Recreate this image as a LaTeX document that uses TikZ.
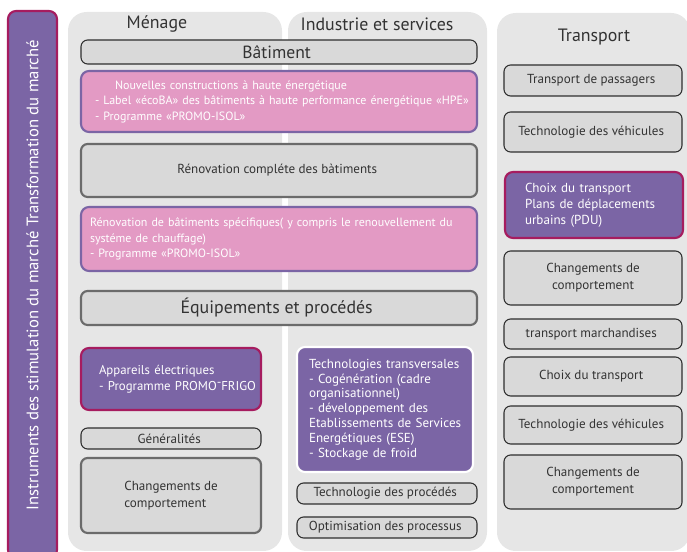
\documentclass[tikz,border=0pt]{standalone}
\usepackage{fontspec}
\setmainfont{PT Sans}
\usepackage{tikz}
\usepackage{xcolor}

\definecolor{panelgray}{HTML}{E6E6E6}
\definecolor{boxgray}{HTML}{D9D9D9}
\definecolor{boxline}{HTML}{2E2E2E}
\definecolor{heavyline}{HTML}{6B6B6B}
\definecolor{pinkfill}{HTML}{E39AC4}
\definecolor{violetfill}{HTML}{7B65A5}
\definecolor{magentaline}{HTML}{A61C5F}
\definecolor{inktext}{HTML}{333333}

\newcommand{\px}{0.75pt}

\begin{document}
\begin{tikzpicture}[x=\px, y=-\px, font=\fontsize{9.8}{12.8}\selectfont, text=inktext,
    wh/.style 2 args={minimum width=#1*\px, minimum height=#2*\px},
    panel/.style={fill=panelgray, rounded corners=14pt, inner sep=0pt},
    head/.style={font=\fontsize{13.4}{15}\selectfont},
    plain/.style={draw=boxline, fill=boxgray, line width=0.8pt, rounded corners=5pt, inner sep=0pt, align=center},
    heavy/.style={plain, draw=heavyline, line width=1.6pt},
    pinkbox/.style={draw=violetfill, fill=pinkfill, line width=1.6pt, rounded corners=6pt, text=white, align=left, inner sep=0pt, font=\fontsize{9}{11.6}\selectfont},
    violetbox/.style={draw=magentaline, fill=violetfill, line width=1.6pt, rounded corners=6pt, text=white, align=left, inner sep=0pt},
    sidebar/.style={draw=magentaline, fill=violetfill, line width=1.6pt, rounded corners=6pt, text=white, inner sep=0pt, font=\fontsize{12.5}{15}\selectfont}]

    \useasboundingbox (0,0) rectangle (687,552);

    % columns
    \node[sidebar, rotate=90, wh={547}{49}] (Instr) at (32.5,284.5)
    { \hspace*{14pt}Instruments des stimulation du marché Transformation du marché };

    \node[panel, wh={214}{539}] (Menage) at (175,281.5) {};
    \node[panel, wh={199}{539}] (Industrie) at (387.5,281.5) {};
    \node[panel, wh={193}{538}] (Transport) at (593.5,282) {};

    \node[head] (MenageT) at (157,24) { Ménage };
    \node[head] (IndustrieT) at (377,24) { Industrie et services };
    \node[head] (TransportT) at (594,37) { Transport };

    % ---------------------------------------------------------

    \node[plain, wh={396}{24}, font=\fontsize{13.2}{15}\selectfont] (Bat) at (279,52)
    { Bâtiment };

    \node[pinkbox, wh={396}{61}, text width=368*\px] (NewBuild) at (279,101.5)
    { \hspace*{15pt}Nouvelles constructions à haute énergétique\\
      \mbox{- Label «écoBA» des bâtiments à haute performance énergétique «HPE»}\\
      - Programme «PROMO-ISOL» };

    \node[heavy, wh={396}{53}] (RenoFull) at (279,170.5)
    { Rénovation compléte des bàtiments };

    \node[pinkbox, wh={396}{64}, text width=378*\px] (RenoSpec) at (279,239)
    { \mbox{Rénovation de bâtiments spécifiques( y compris le renouvellement du}\\
      systéme de chauffage)\\
      - Programme «PROMO-ISOL» };

    \node[heavy, wh={396}{34}, font=\fontsize{13.4}{15}\selectfont] (Equip) at (279,308)
    { Équipements et procédés };

    % ---------------------------------------------------------

    \node[violetbox, wh={180}{62}, text width=144*\px, font=\fontsize{9.6}{12}\selectfont] (Appareils) at (171,379)
    { Appareils électriques\\
      \mbox{-\ Programme PROMO\raisebox{0.3em}{-}FRIGO} };

    \node[plain, wh={180}{21}] (General) at (171,438.5)
    { Généralités };

    \node[heavy, wh={180}{75}, align=left] (ChangeM) at (171,495.5)
    { Changements de\\ comportement };

    \node[violetbox, draw=white, wh={176}{125}, text width=152*\px, font=\fontsize{9.8}{11.1}\selectfont] (TechTrans) at (385,409.5)
    { Technologies transversales\\
      - Cogénération (cadre\\
      organisationnel)\\
      - développement des\\
      \mbox{Etablissements de Services}\\
      Energétiques (ESE)\\
      - Stockage de froid };

    \node[plain, wh={180}{21}] (TechProc) at (387,493.5)
    { Technologie des procédés };

    \node[plain, wh={180}{21}] (Optim) at (387,527.5)
    { Optimisation des processus };

    % ---------------------------------------------------------

    \node[plain, wh={178}{31}] (Passagers) at (593,80.5)
    { Transport de passagers };

    \node[plain, wh={178}{40}] (VehicA) at (593,132)
    { Technologie des véhicules };

    \node[violetbox, wh={178}{66}, text width=138*\px, font=\fontsize{9.8}{12}\selectfont] (PDU) at (594,205)
    { Choix du transport\\
      \mbox{Plans de déplacements}\\
      urbains (PDU) };

    \node[plain, wh={178}{54}] (ChangeA) at (593,278)
    { Changements de\\ comportement };

    \node[plain, wh={178}{30}] (Marchand) at (593,334)
    { transport marchandises };

    \node[plain, wh={178}{39}] (ChoixB) at (593,376.5)
    { Choix du transport };

    \node[plain, wh={178}{38}] (VehicB) at (593,425)
    { Technologie des véhicules };

    \node[plain, wh={178}{54}] (ChangeB) at (593,482)
    { Changements de\\ comportement };
\end{tikzpicture}
\end{document}
